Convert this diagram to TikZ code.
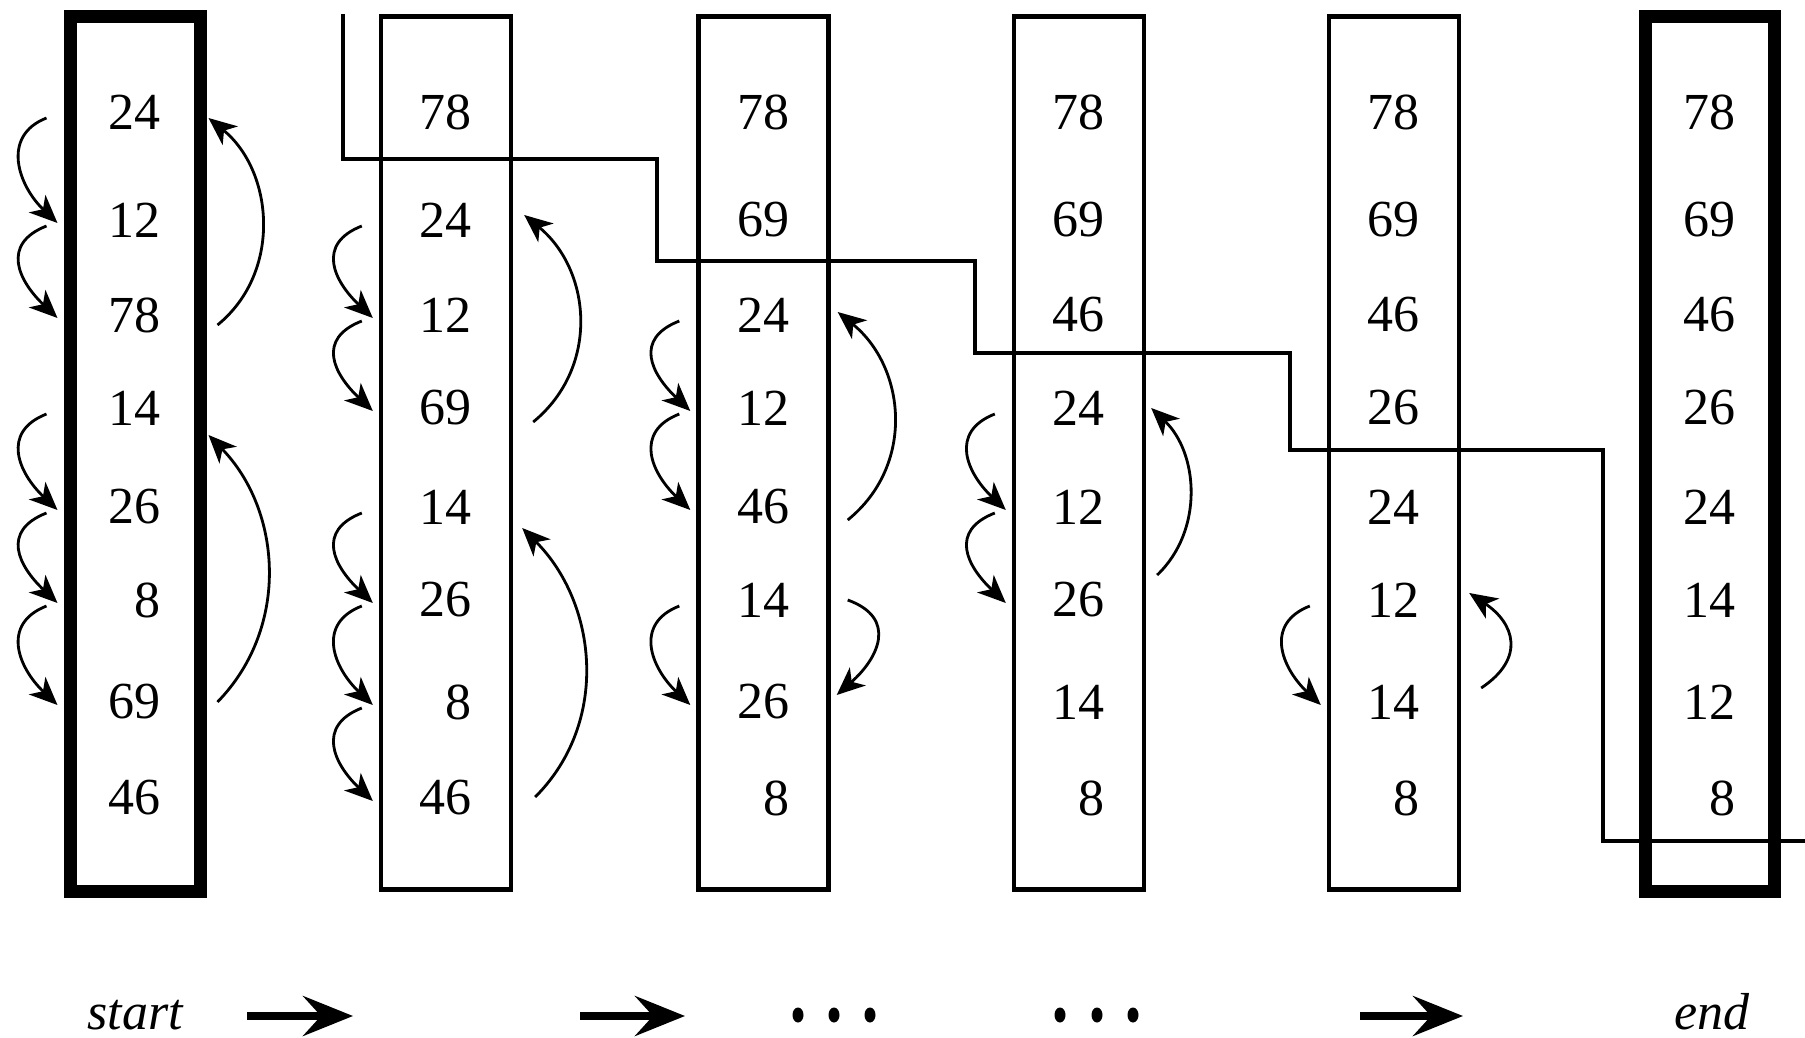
\documentclass[tikz,border=0pt]{standalone}
\usepackage{fontspec}
\setmainfont{Liberation Serif}
\usetikzlibrary{arrows.meta,calc}

\tikzset{
  colbox/.style={draw, line width=2.2pt, minimum width=65pt, minimum height=436.5pt, inner sep=0pt},
  thickbox/.style={colbox, line width=6.5pt, minimum height=437pt},
  num/.style={inner sep=0pt, anchor=east, font=\fontsize{26pt}{30pt}\selectfont},
  swaparrow/.style={line width=1.4pt, -{Stealth[length=14pt,width=12pt,inset=4pt]}},
  stairline/.style={line width=2.2pt},
  bigarrow/.style={line width=3.6pt, -{Stealth[length=25pt,width=20pt,inset=9pt]}},
  caption/.style={inner sep=0pt, anchor=base, font=\fontsize{26pt}{30pt}\selectfont\itshape},
}

% exchange arrow on the left side of a column, from row #2 down to row #3
\newcommand\leftswap[3]{%
  \draw[swaparrow] ($(b#1.west |- c#1r#2)+(-17,6)$)
    .. controls +(-46,18) and +(-39,-37) .. ($(b#1.west |- c#1r#3)+(-6,3)$);}

\begin{document}
\begin{tikzpicture}[x=0.5pt,y=-0.5pt]
\useasboundingbox (0,0) rectangle (1805,1038);
\fill[white] (0,0) rectangle (1805,1038);

% the six snapshots of the list
\node[thickbox] (b1) at (135,454) {};
\node[colbox] (b2) at (446,453) {};
\node[colbox] (b3) at (763.5,453) {};
\node[colbox] (b4) at (1079,453) {};
\node[colbox] (b5) at (1394,453) {};
\node[thickbox, minimum width=64.5pt] (b6) at (1709.5,454) {};

% list entries, right aligned
\def\rowy{{112,220,315,408,507,600,702,798}}
\foreach \col/\cx/\vals in {
    1/135/{24,12,78,14,26,8,69,46},
    2/446/{78,24,12,69,14,26,8,46},
    3/763.5/{78,69,24,12,46,14,26,8},
    4/1079/{78,69,46,24,12,26,14,8},
    5/1394/{78,69,46,26,24,12,14,8},
    6/1709.5/{78,69,46,26,24,14,12,8}}{
  \foreach \val [count=\rw] in \vals {
    \pgfmathsetmacro\ry{\rowy[\rw-1]}
    \node[num] (c\col r\rw) at (\cx+26,\ry) {\val};
  }
}

% boundary between the sorted part and the rest
\draw[stairline] (343,14) |- (657,159) |- (975,261) |- (1290,353) |- (1603,450) |- (1810,841);

% exchanges, left side
\leftswap{1}{1}{2}
\leftswap{1}{2}{3}
\leftswap{1}{4}{5}
\leftswap{1}{5}{6}
\leftswap{1}{6}{7}
\leftswap{2}{2}{3}
\leftswap{2}{3}{4}
\leftswap{2}{5}{6}
\leftswap{2}{6}{7}
\leftswap{2}{7}{8}
\leftswap{3}{3}{4}
\leftswap{3}{4}{5}
\leftswap{3}{6}{7}
\leftswap{4}{4}{5}
\leftswap{4}{5}{6}
\leftswap{5}{6}{7}

% maxima moving up, right side
\draw[swaparrow] ($(b1.east |- c1r3)+(11,10)$) .. controls +(65,-53) and +(65,53) .. ($(b1.east |- c1r1)+(2,6)$);
\draw[swaparrow] ($(b1.east |- c1r7)+(11,0)$) .. controls +(73,-75) and +(73,75) .. ($(b1.east |- c1r4)+(2,27)$);
\draw[swaparrow] ($(b2.east |- c2r4)+(20,14)$) .. controls +(67,-55) and +(67,55) .. ($(b2.east |- c2r2)+(11,-5)$);
\draw[swaparrow] ($(b2.east |- c2r8)+(22,-1)$) .. controls +(75,-75) and +(75,75) .. ($(b2.east |- c2r5)+(9,21)$);
\draw[swaparrow] ($(b3.east |- c3r5)+(17,13)$) .. controls +(68,-55) and +(68,55) .. ($(b3.east |- c3r3)+(7,-3)$);
\draw[swaparrow] ($(b3.east |- c3r6)+(17,0)$) .. controls +(50,18) and +(42,-37) .. ($(b3.east |- c3r7)+(6,-7)$);
\draw[swaparrow] ($(b4.east |- c4r6)+(11,-25)$) .. controls +(47,-45) and +(47,45) .. ($(b4.east |- c4r4)+(5,0)$);
\draw[swaparrow] ($(b5.east |- c5r7)+(20,-14)$) .. controls +(45,-30) and +(45,30) .. ($(b5.east |- c5r6)+(8,-7)$);

% bottom line
\node[caption] (startlabel) at (135,1029) {start};
\node[caption] (endlabel) at (1712,1029) {end};
\coordinate (p1a) at (247,1016); \coordinate (p1b) at (353,1016);
\coordinate (p2a) at (580,1016); \coordinate (p2b) at (685,1016);
\coordinate (p3a) at (1360,1016); \coordinate (p3b) at (1463,1016);
\draw[bigarrow] (p1a) -- (p1b);
\draw[bigarrow] (p2a) -- (p2b);
\draw[bigarrow] (p3a) -- (p3b);
\foreach \dx in {798,834,870,1060,1097,1133}
  \fill (\dx,1015) ellipse [x radius=2.75pt, y radius=3.75pt];
\end{tikzpicture}
\end{document}
